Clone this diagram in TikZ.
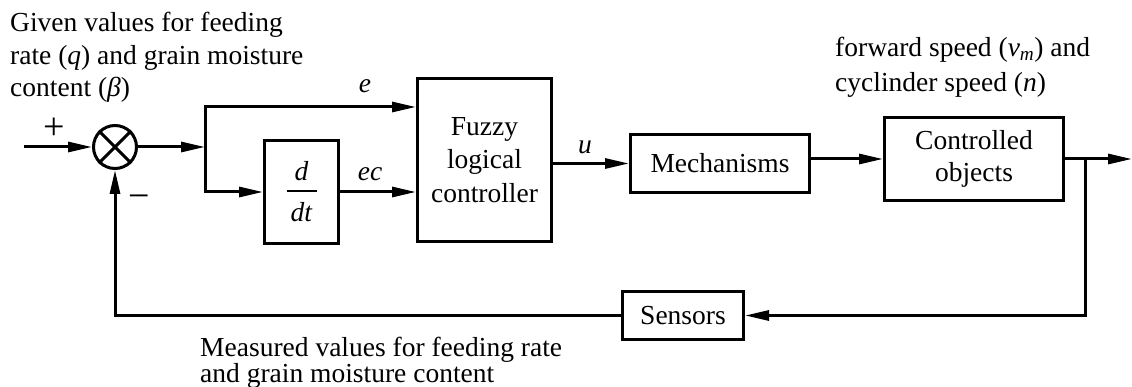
\documentclass[tikz,border=0pt]{standalone}
\usepackage{fontspec}
\setmainfont{Liberation Serif}
\usetikzlibrary{arrows.meta}
\begin{document}
\begin{tikzpicture}[x=1pt,y=-1pt,
  every node/.style={font=\fontsize{27.5}{32.5}\selectfont},
  blk/.style={draw,line width=3pt,inner sep=0pt,align=center},
  wire/.style={line width=3pt},
  tip/.tip={Triangle[length=24pt,width=10pt]},
  arr/.style={wire,-tip},
  arrboth/.style={wire,tip-tip},
  lbl/.style={inner sep=0pt},
  sign/.style={inner sep=0pt,font=\fontsize{38}{40}\selectfont},
]
\useasboundingbox (0,0) rectangle (1132,387);

% summing junction
\node[draw,circle,line width=3pt,minimum size=43pt,inner sep=0pt] (sum) at (115,147) {};
\draw[wire] (sum.north west) -- (sum.south east) (sum.north east) -- (sum.south west);

\coordinate (in) at (24,147);
\coordinate (j) at (205,147);
\coordinate (jt) at (205,107);
\coordinate (jb) at (205,192);

% blocks
\node[blk,minimum width=74pt,minimum height=103pt] (ddt) at (301.5,192)
  {\textit{d}\\[-21.5pt]\rule{30pt}{2pt}\\[-2.5pt]\textit{dt}};
\node[blk,minimum width=134pt,minimum height=163pt,font=\fontsize{27.5}{33.5}\selectfont] (fuzzy) at (484.5,160) {Fuzzy\\logical\\controller};
\node[blk,minimum width=179pt,minimum height=58pt] (mech) at (720,163.5) {Mechanisms};
\node[blk,minimum width=179pt,minimum height=83pt,font=\fontsize{27.5}{31.5}\selectfont] (ctrl) at (974,159) {Controlled\\objects};
\node[blk,minimum width=121pt,minimum height=48pt] (sens) at (683,315.5) {Sensors};

\coordinate (br) at (1085,159);
\coordinate (out) at (1132,159);

% connectors
\draw[arr] (in) -- (sum.west);
\draw[arr] (sum.east) -- (j);
\draw[arrboth] (jt -| fuzzy.west) -- (jt) -- (jb) -- (ddt.west);
\draw[arr] (ddt.east) -- (ddt.east -| fuzzy.west);
\draw[arr] (fuzzy.east |- mech.west) -- (mech.west);
\draw[arr] (mech.east |- ctrl.west) -- (ctrl.west);
\draw[arr] (ctrl.east) -- (out);
\draw[arr] (br) -- (br |- sens.east) -- (sens.east);
\draw[arr] (sens.west) -- (sens.west -| sum.south) -- (sum.south);

% labels
\node[lbl,anchor=base] (le) at (365,93) {\textit{e}};
\node[lbl,anchor=base] (lec) at (370,181) {\textit{ec}};
\node[lbl,anchor=base] (lu) at (585,154) {\textit{u}};
\node[sign] (plus) at (54,128.5) {+};
\node[sign] (minus) at (139.5,201.7) {−};

\node[lbl,anchor=base west,align=left] (given) at (10,97)
  {Given values for feeding\\rate (\textit{q}) and grain moisture\\content (\textit{β})};
\node[lbl,anchor=base west,align=left,font=\fontsize{27.5}{35}\selectfont] (speed) at (835,92)
  {forward speed (\textit{v}\textsubscript{\textit{m}}) and\\cyclinder speed (\textit{n})};
\node[lbl,anchor=base west,align=left] (meas) at (200,382)
  {Measured values for feeding rate\\[-7pt]and grain moisture content};
\end{tikzpicture}
\end{document}
